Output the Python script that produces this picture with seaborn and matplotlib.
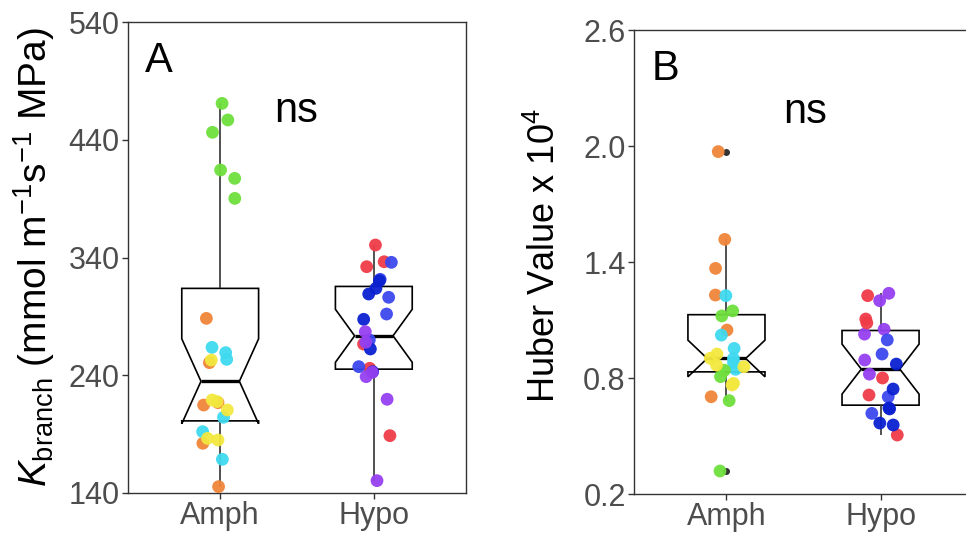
import numpy as np
import pandas as pd
import matplotlib
matplotlib.use("Agg")
import matplotlib.pyplot as plt
import seaborn as sns

# ---------------- data ----------------
groups = ["Amph", "Hypo"]

# Panel A: K_branch
k_amph_taxon = ["sp_green"] * 6 + ["sp_orange"] * 6 + ["sp_cyan"] * 6 + ["sp_yellow"] * 6
k_amph = [470.9, 456.8, 446.3, 414.3, 407.2, 390.2,
          288.3, 250.7, 214.7, 216.7, 182.2, 145.4,
          259.2, 263.7, 253.5, 204.3, 192.1, 168.6,
          252.9, 217.6, 219.0, 210.5, 185.0, 186.4]
k_hypo_taxon = ["sp_red"] * 6 + ["sp_blue"] * 6 + ["sp_darkblue"] * 6 + ["sp_purple"] * 6
k_hypo = [350.6, 336.4, 332.2, 266.5, 245.9, 188.7,
          335.9, 321.5, 306.2, 292.0, 270.0, 247.3,
          320.3, 313.8, 309.0, 287.5, 262.3, 243.0,
          277.0, 238.8, 242.5, 219.6, 150.5, 268.0]

# Panel B: Huber value x 10^4
hv_amph_taxon = ["sp_orange"] * 6 + ["sp_cyan"] * 6 + ["sp_green"] * 6 + ["sp_yellow"] * 6
hv_amph = [1.971, 1.517, 1.367, 1.229, 1.048, 0.703,
           1.226, 1.022, 0.953, 0.845, 0.880, 0.900,
           1.121, 1.147, 0.807, 0.683, 0.319, 0.840,
           0.902, 0.924, 0.858, 0.867, 0.772, 0.764]
hv_hypo_taxon = ["sp_purple"] * 6 + ["sp_red"] * 6 + ["sp_blue"] * 4 + ["sp_darkblue"] * 6
hv_hypo = [1.238, 1.200, 1.052, 1.027, 0.893, 0.820,
           1.226, 1.105, 1.085, 0.800, 0.712, 0.505,
           0.997, 0.924, 0.703, 0.617,
           0.872, 0.743, 0.645, 0.567, 0.557, 0.640]

palette = {
    "sp_green": "#6fe03c",
    "sp_orange": "#f0853a",
    "sp_cyan": "#3fd9ef",
    "sp_yellow": "#f3e83e",
    "sp_red": "#f03c48",
    "sp_blue": "#3c48ee",
    "sp_darkblue": "#0a20d0",
    "sp_purple": "#9540f0",
}

k_ticks = [140, 240, 340, 440, 540]
hv_ticks = [0.2, 0.8, 1.4, 2.0, 2.6]
hv_tick_labels = ["0.2", "0.8", "1.4", "2.0", "2.6"]

df_k = pd.DataFrame({
    "group": ["Amph"] * len(k_amph) + ["Hypo"] * len(k_hypo),
    "taxon": k_amph_taxon + k_hypo_taxon,
    "value": k_amph + k_hypo,
})
df_hv = pd.DataFrame({
    "group": ["Amph"] * len(hv_amph) + ["Hypo"] * len(hv_hypo),
    "taxon": hv_amph_taxon + hv_hypo_taxon,
    "value": hv_amph + hv_hypo,
})

# ---------------- style ----------------
sns.set_style("white")
plt.rcParams["font.family"] = ["Liberation Sans", "DejaVu Sans"]
plt.rcParams["mathtext.fontset"] = "custom"
plt.rcParams["mathtext.rm"] = "Liberation Sans"
plt.rcParams["mathtext.it"] = "Liberation Sans:italic"
plt.rcParams["mathtext.bf"] = "Liberation Sans:bold"

fig = plt.figure(figsize=(9.66, 5.39), dpi=100)
axA = fig.add_axes([128 / 966, 46 / 539, 338 / 966, 471 / 539])
axB = fig.add_axes([634 / 966, 45 / 539, 339 / 966, 464 / 539])

np.random.seed(3)


def draw(ax, df):
    sns.boxplot(data=df, x="group", y="value", order=groups, notch=True,
                width=0.5, color="white", linecolor="black", linewidth=1.2,
                showcaps=False, fliersize=4,
                flierprops=dict(marker="o", markerfacecolor="#333333",
                                markeredgecolor="#333333"),
                whiskerprops=dict(color="#333333"),
                medianprops=dict(linewidth=2.4, color="black"),
                ax=ax)
    sns.stripplot(data=df, x="group", y="value", order=groups, hue="taxon",
                  palette=palette, jitter=0.12, size=9.2, alpha=0.95,
                  linewidth=0, legend=False, zorder=3, ax=ax)
    ax.set_xlim(-0.6, 1.6)
    ax.set_xlabel("")
    for s in ax.spines.values():
        s.set_visible(True)
        s.set_color("#333333")
        s.set_linewidth(1.0)
    ax.tick_params(axis="both", which="both", length=4, width=1,
                   color="#333333", labelcolor="#4d4d4d", labelsize=22,
                   left=True, bottom=True, pad=2)


draw(axA, df_k)
axA.set_ylim(140, 540)
axA.set_yticks(k_ticks)
axA.set_ylabel(r"$K_{\mathrm{branch}}$ (mmol m$^{\mathrm{-1}}$s$^{\mathrm{-1}}$ MPa)",
               fontsize=28, color="black")
axA.yaxis.set_label_coords(-0.21, 0.5)
axA.text(0.05, 0.894, "A", transform=axA.transAxes, fontsize=30,
         va="baseline", ha="left", color="black")
axA.text(0.497, 0.788, "ns", transform=axA.transAxes, fontsize=30,
         va="baseline", ha="center", color="black")

draw(axB, df_hv)
axB.spines["right"].set_visible(False)
axB.set_ylim(0.2, 2.6)
axB.set_yticks(hv_ticks)
axB.set_yticklabels(hv_tick_labels)
axB.set_ylabel(r"Huber Value x 10$^{\mathrm{4}}$", fontsize=26, color="black")
axB.yaxis.set_label_coords(-0.21, 0.513)
axB.text(0.053, 0.892, "B", transform=axB.transAxes, fontsize=30,
         va="baseline", ha="left", color="black")
axB.text(0.504, 0.80, "ns", transform=axB.transAxes, fontsize=30,
         va="baseline", ha="center", color="black")

fig.savefig("out.png", dpi=100)
